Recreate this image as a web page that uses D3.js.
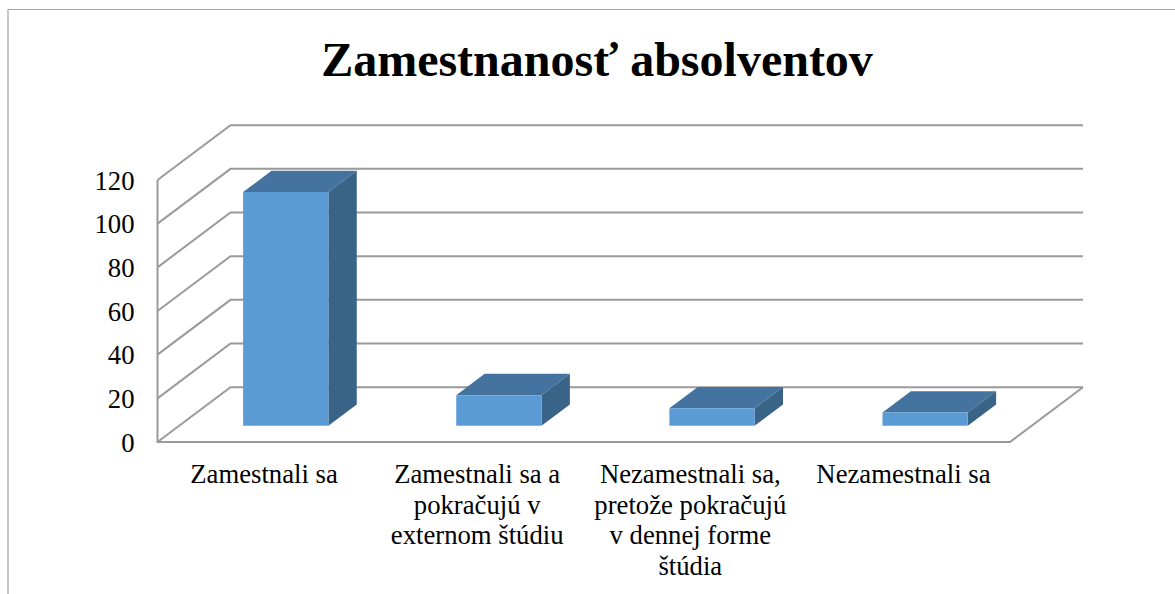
<!DOCTYPE html>
<html><head><meta charset="utf-8">
<script src="https://cdn.jsdelivr.net/npm/d3@7"></script>
<style>html,body{margin:0;padding:0;background:#fff;overflow:hidden}svg{display:block}text{font-family:"Liberation Serif","Times New Roman",serif;fill:#000}</style>
</head><body><svg id="c" width="1175" height="594"></svg>
<script>
const titleText = "Zamestnanosť absolventov";
const categories = ["Zamestnali sa","Zamestnali sa a pokračujú v externom štúdiu","Nezamestnali sa, pretože pokračujú v dennej forme štúdia","Nezamestnali sa "];
const categoryLines = [["Zamestnali sa"],["Zamestnali sa a","pokračujú v","externom štúdiu"],["Nezamestnali sa,","pretože pokračujú","v dennej forme","štúdia"],["Nezamestnali sa"]];
const values = [107,14,8,6];
const tickValues = [0,20,40,60,80,100,120];

const svg = d3.select("#c");
const W = 1175, H = 594;
const x = d3.scaleBand().domain(categories).range([157.5,1010]).paddingInner(0.6).paddingOuter(0.3);
const step = x.step();
const catAxis = d3.scalePoint().domain(categories).range([157.5+step/2, 1010-step/2]);
const y = d3.scaleLinear().domain([0,120]).range([442,180]);
const depthX = d3.scaleLinear().domain([0,1]).range([0,73]);
const depthY = d3.scaleLinear().domain([0,1]).range([0,-54.8]);
const gridColor = "#9a9a9a";

// outer frame
svg.append("path").attr("d",`M8,${H}V9.5H${W}`).attr("fill","none").attr("stroke","#a6a6a6").attr("stroke-width",1.2);

// title
svg.append("text").attr("x",597).attr("y",76).attr("text-anchor","middle")
  .attr("font-size",48).attr("font-weight","bold").text(titleText);

const p = (px,v,d)=>[px+depthX(d), y(v)+depthY(d)];
const line = d3.line();
const gridG = svg.append("g").attr("fill","none").attr("stroke",gridColor).attr("stroke-width",2);
const xL = x.range()[0], xR = x.range()[1];
tickValues.forEach(v=>{
  gridG.append("path").attr("d",line([p(xL,v,0),p(xL,v,1),p(xR,v,1)]));
});
// floor and axis
gridG.append("path").attr("d",line([p(xL,120,0),p(xL,0,0),p(xR,0,0),p(xR,0,1)]));

// bars
const d0 = 0.297, d1 = 0.686;
const bars = svg.append("g").selectAll("g").data(categories).join("g");
bars.each(function(c,i){
  const g = d3.select(this), v = values[i];
  const a = x(c), b = a + x.bandwidth();
  const poly = (pts,fill)=>g.append("path").attr("d",line(pts)+"Z").attr("fill",fill);
  poly([p(a,v,d0),p(a,v,d1),p(b,v,d1),p(b,v,d0)],"#44739f");
  poly([p(b,0,d0),p(b,0,d1),p(b,v,d1),p(b,v,d0)],"#3a6487");
  poly([p(a,0,d0),p(b,0,d0),p(b,v,d0),p(a,v,d0)],"#5b9bd5");
});

// y tick labels
svg.append("g").selectAll("text").data(tickValues).join("text")
  .attr("x",134.5).attr("y",v=>y(v)+9.5).attr("text-anchor","end").attr("font-size",26.7).text(v=>v);

// category labels
const lab = svg.append("g").selectAll("text").data(categories).join("text")
  .attr("text-anchor","middle").attr("font-size",26.7);
lab.each(function(c,i){
  d3.select(this).selectAll("tspan").data(categoryLines[i]).join("tspan")
    .attr("x",catAxis(c)).attr("y",(d,j)=>483+j*30.7).text(d=>d);
});
</script></body></html>
